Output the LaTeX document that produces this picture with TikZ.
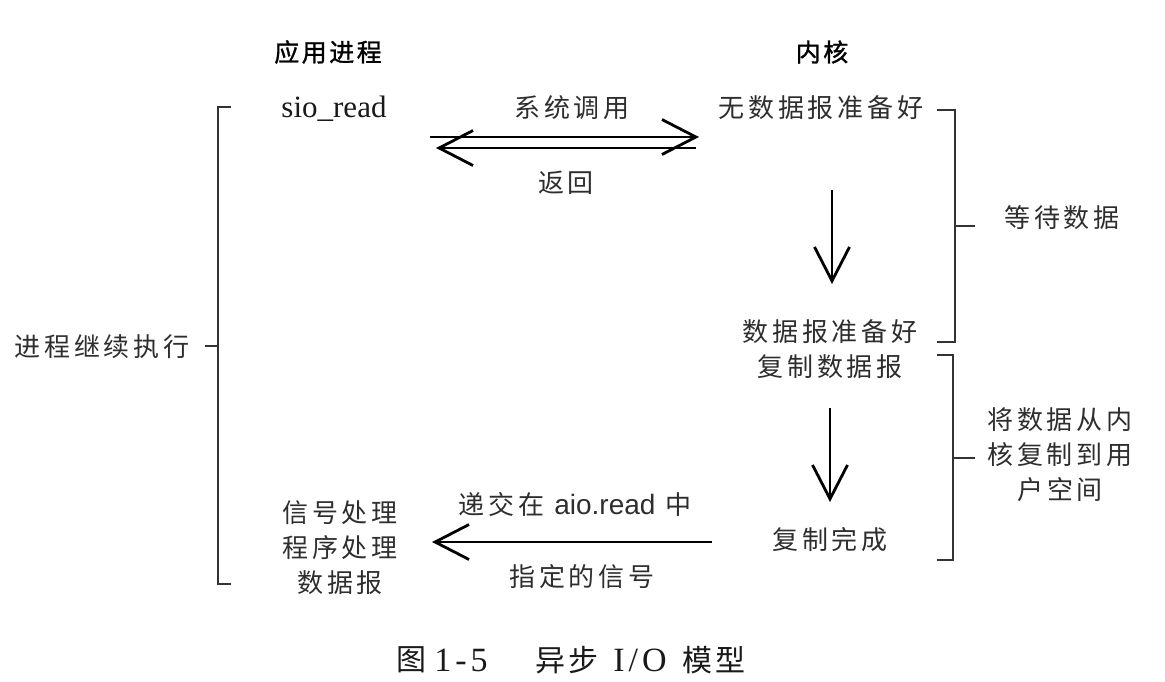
\documentclass[tikz,border=0pt]{standalone}
\usepackage{fontspec}
\setmainfont{Liberation Serif}
\newfontfamily\cjk{Noto Sans CJK SC}[LetterSpace=15]
\newfontfamily\cjkb{Noto Sans CJK SC}[LetterSpace=10,FakeBold=1.2]
\newfontfamily\cjkc{Noto Sans CJK SC}[LetterSpace=12]
\newfontfamily\capserif{Liberation Serif}[LetterSpace=12]
\newfontfamily\lsans{Liberation Sans}
\usetikzlibrary{arrows.meta}
\begin{document}
\begin{tikzpicture}[x=1pt,y=-1pt,
  lbl/.style={inner sep=0pt,font=\fontsize{26}{35}\selectfont\cjk,text=black!82,align=center},
  ttl/.style={inner sep=0pt,font=\fontsize{25}{30}\selectfont\cjkb,text=black},
  capc/.style={inner sep=0pt,font=\fontsize{30}{32}\selectfont\cjkc,text=black!90},
  capl/.style={inner sep=0pt,font=\fontsize{34}{36}\selectfont\capserif,text=black!90},
  arr/.style={line width=2.8pt,-{Straight Barb[length=34pt,width=35pt]}},
  brace/.style={line width=1.8pt,black!80}]
\useasboundingbox (0,0) rectangle (1165,681);
% titles
\node[ttl] (app) at (328,52) {应用进程};
\node[ttl] (kern) at (822,52) {内核};
% app side
\node[inner sep=0pt,font=\fontsize{31}{32}\selectfont,text=black!90] (sio) at (334,109) {sio\_read};
\node[lbl] (sig) at (340,548) {信号处理\\程序处理\\数据报};
% kernel side
\node[lbl] (nodata) at (821,108) {无数据报准备好};
\node[lbl] (ready) at (830,349) {数据报准备好\\复制数据报};
\node[lbl] (done) at (830,540) {复制完成};
% labels on arrows
\node[lbl] (sys) at (572,108) {系统调用};
\node[lbl] (ret) at (566,183) {返回};
\node[lbl] (deliv) at (575,505) {递交在 {\lsans\fontsize{28}{30}\selectfont aio.read} 中};
\node[lbl] (spec) at (582,577) {指定的信号};
% side labels
\node[lbl] (wait) at (1062,218) {等待数据};
\node[lbl] (copy) at (1060,455) {将数据从内\\核复制到用\\户空间};
\node[lbl,anchor=east] (cont) at (190,347) {进程继续执行};
% coordinates for connectors
\coordinate (c1) at (430,137);
\coordinate (c2) at (699,137);
\coordinate (c3) at (696,148);
\coordinate (c4) at (436,148);
\coordinate (d1) at (832,190);
\coordinate (d2) at (832,284);
\coordinate (d3) at (830,408);
\coordinate (d4) at (830,502);
\coordinate (b1) at (712,542);
\coordinate (b2) at (432,542);
% connectors
\draw[arr] (c1) -- (c2);
\draw[arr] (c3) -- (c4);
\draw[arr] (d1) -- (d2);
\draw[arr] (d3) -- (d4);
\draw[arr] (b1) -- (b2);
% braces
\draw[brace] (937,110) -- (955,110) -- (955,342) -- (937,342);
\draw[brace] (955,226) -- (975,226);
\draw[brace] (937,355) -- (953,355) -- (953,560) -- (937,560);
\draw[brace] (953,458) -- (975,458);
\draw[brace] (231,107) -- (218,107) -- (218,584) -- (231,584);
\draw[brace] (205,346) -- (218,346);
% caption
\node[capc] (cap1) at (411,660) {图};
\node[capl] (cap2) at (461,660) {1-5};
\node[capc] (cap3) at (567,660) {异步};
\node[capl] (cap4) at (640,660) {I/O};
\node[capc] (cap5) at (714,660) {模型};
\end{tikzpicture}
\end{document}
